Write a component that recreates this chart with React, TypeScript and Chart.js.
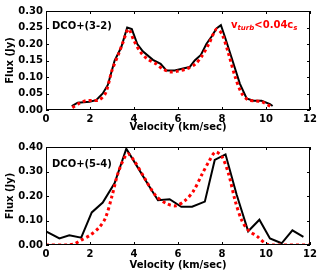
import React, { useEffect, useRef } from "react";
import { Chart, registerables } from "chart.js";

Chart.register(...registerables);

// ---------- data ----------
const xTickValues = [0, 2, 4, 6, 8, 10, 12];

// DCO+(3-2) observed
const v32Obs = [1.17, 1.44, 1.98, 2.28, 2.58, 2.81, 3.12, 3.42, 3.69, 3.9, 4.15, 4.4, 4.86, 5.21, 5.47, 5.85, 6.23, 6.53, 6.76, 7.04, 7.29, 7.52, 7.75, 7.95, 8.13, 8.43, 8.81, 9.12, 9.42, 9.8, 10.18, 10.3];
const f32Obs = [0.012, 0.022, 0.025, 0.03, 0.05, 0.076, 0.15, 0.19, 0.25, 0.245, 0.2, 0.178, 0.152, 0.14, 0.12, 0.12, 0.126, 0.13, 0.15, 0.167, 0.2, 0.222, 0.247, 0.257, 0.222, 0.16, 0.08, 0.035, 0.028, 0.028, 0.018, 0.012];
// DCO+(3-2) model
const v32Mod = [1.2, 1.5, 1.8, 2.1, 2.4, 2.7, 3.0, 3.3, 3.5, 3.75, 4.0, 4.3, 4.6, 5.0, 5.3, 5.7, 6.0, 6.4, 6.8, 7.1, 7.4, 7.75, 8.0, 8.3, 8.6, 8.9, 9.2, 9.5, 9.8, 10.1, 10.3];
const f32Mod = [0.007, 0.02, 0.028, 0.029, 0.03, 0.05, 0.12, 0.17, 0.205, 0.245, 0.21, 0.175, 0.155, 0.14, 0.125, 0.115, 0.118, 0.125, 0.14, 0.165, 0.2, 0.245, 0.23, 0.17, 0.1, 0.05, 0.03, 0.028, 0.025, 0.015, 0.008];

// DCO+(5-4) observed
const v54Obs = [0, 0.61, 1.06, 1.6, 2.08, 2.58, 3.12, 3.65, 4.1, 4.64, 5.09, 5.62, 6.15, 6.64, 7.22, 7.67, 8.16, 8.66, 9.19, 9.7, 10.18, 10.71, 11.2, 11.7];
const f54Obs = [0.056, 0.027, 0.04, 0.03, 0.133, 0.173, 0.253, 0.393, 0.327, 0.247, 0.183, 0.187, 0.156, 0.156, 0.177, 0.347, 0.37, 0.207, 0.056, 0.103, 0.027, 0.007, 0.06, 0.033];
// DCO+(5-4) model
const v54Mod = [0, 1.0, 1.3, 1.6, 2.0, 2.4, 2.7, 3.0, 3.3, 3.7, 4.0, 4.5, 5.0, 5.5, 5.9, 6.3, 6.7, 7.1, 7.4, 7.7, 8.0, 8.3, 8.6, 8.9, 9.2, 9.6, 10.0, 10.3, 12.0];
const f54Mod = [0.0, 0.0, 0.005, 0.02, 0.04, 0.07, 0.11, 0.2, 0.3, 0.372, 0.345, 0.27, 0.2, 0.168, 0.16, 0.18, 0.22, 0.29, 0.34, 0.38, 0.36, 0.29, 0.18, 0.1, 0.06, 0.035, 0.005, 0.0, 0.0];

const FONT = '"DejaVu Sans", sans-serif';

const toPts = (xs: number[], ys: number[]) => xs.map((x, i) => ({ x, y: ys[i] }));

type Part = { text: string; size: number; italic?: boolean; dy?: number };
type Label = { dx: number; y: number; color: string; parts: Part[] };

const framePlugin = {
  id: "frame",
  afterDraw(chart: any, _args: any, opts: any) {
    const { ctx, chartArea: a, scales } = chart;
    ctx.save();
    ctx.strokeStyle = "#000";
    ctx.lineWidth = 1;
    ctx.strokeRect(a.left + 0.5, a.top + 0.5, a.right - a.left - 1, a.bottom - a.top - 1);
    const L = 3;
    ctx.beginPath();
    scales.x.ticks.forEach((t: any) => {
      const px = Math.round(scales.x.getPixelForValue(t.value)) + 0.5;
      ctx.moveTo(px, a.bottom);
      ctx.lineTo(px, a.bottom - L);
      ctx.moveTo(px, a.top);
      ctx.lineTo(px, a.top + L);
    });
    scales.y.ticks.forEach((t: any) => {
      const py = Math.round(scales.y.getPixelForValue(t.value)) + 0.5;
      ctx.moveTo(a.left, py);
      ctx.lineTo(a.left + L, py);
      ctx.moveTo(a.right, py);
      ctx.lineTo(a.right - L, py);
    });
    ctx.stroke();
    const labels: Label[] = (opts && opts.labels) || [];
    ctx.textBaseline = "alphabetic";
    ctx.textAlign = "left";
    labels.forEach((lab) => {
      let x = a.left + lab.dx;
      ctx.fillStyle = lab.color;
      lab.parts.forEach((p) => {
        ctx.font = `${p.italic ? "italic " : ""}bold ${p.size}px ${FONT}`;
        ctx.fillText(p.text, x, lab.y + (p.dy || 0));
        x += ctx.measureText(p.text).width;
      });
    });
    ctx.restore();
  },
};

function makeConfig(opts: {
  obsX: number[]; obsY: number[]; modX: number[]; modY: number[];
  yMax: number; padTop: number; xHeight: number; titlePad: number; labels: Label[];
}) {
  return {
    type: "line" as const,
    data: {
      datasets: [
        {
          data: toPts(opts.modX, opts.modY),
          borderColor: "#ff0000",
          borderWidth: 3,
          borderDash: [3, 3],
          pointRadius: 0,
          tension: 0.3,
          fill: false,
          order: 0,
        },
        {
          data: toPts(opts.obsX, opts.obsY),
          borderColor: "#000000",
          borderWidth: 2,
          pointRadius: 0,
          tension: 0,
          fill: false,
          order: 1,
        },
      ],
    },
    options: {
      responsive: false,
      animation: false,
      devicePixelRatio: 1,
      layout: { padding: { top: opts.padTop, right: 10, left: 0, bottom: 0 } },
      plugins: {
        legend: { display: false },
        tooltip: { enabled: false },
        frame: { labels: opts.labels },
      },
      scales: {
        x: {
          type: "linear",
          min: 0,
          max: 12,
          grid: { display: false, drawTicks: false },
          border: { display: false },
          afterBuildTicks: (s: any) => { s.ticks = xTickValues.map((v) => ({ value: v })); },
          ticks: { color: "#000", font: { family: FONT, size: 10, weight: "bold" }, padding: 3, maxRotation: 0, autoSkip: false },
          title: { display: true, text: "Velocity (km/sec)", color: "#000", font: { family: FONT, size: 10, weight: "bold" }, padding: { top: 0, bottom: opts.titlePad } },
          afterFit: (s: any) => { s.height = opts.xHeight; },
        },
        y: {
          type: "linear",
          min: 0,
          max: opts.yMax,
          grid: { display: false, drawTicks: false },
          border: { display: false },
          ticks: { stepSize: 0.05, color: "#000", font: { family: FONT, size: 10, weight: "bold" }, padding: 3, callback: (v: any) => Number(v).toFixed(2) },
          title: { display: true, text: "Flux (Jy)", color: "#000", font: { family: FONT, size: 10, weight: "bold" }, padding: { top: 4, bottom: 0 } },
          afterFit: (s: any) => { s.width = 46; },
        },
      },
    },
    plugins: [framePlugin],
  };
}

function Panel(props: { top: number; height: number; cfg: any }) {
  const ref = useRef<HTMLCanvasElement>(null);
  useEffect(() => {
    if (!ref.current) return;
    const chart = new Chart(ref.current, props.cfg);
    return () => chart.destroy();
  }, []);
  return (
    <canvas
      ref={ref}
      width={320}
      height={props.height}
      style={{ position: "absolute", left: 0, top: props.top, width: 320, height: props.height }}
    />
  );
}

export default function App() {
  const cfgTop = makeConfig({
    obsX: v32Obs, obsY: f32Obs, modX: v32Mod, modY: f32Mod,
    yMax: 0.3, padTop: 11, xHeight: 28, titlePad: 5,
    labels: [
      { dx: 6, y: 28.5, color: "#000", parts: [{ text: "DCO+(3-2)", size: 10 }] },
      {
        dx: 185, y: 28, color: "#ff0000", parts: [
          { text: "v", size: 10 },
          { text: "turb", size: 7, italic: true, dy: 1.5 },
          { text: "<0.04c", size: 10 },
          { text: "s", size: 7, italic: true, dy: 1.5 },
        ],
      },
    ],
  });
  const cfgBot = makeConfig({
    obsX: v54Obs, obsY: f54Obs, modX: v54Mod, modY: f54Mod,
    yMax: 0.4, padTop: 7, xHeight: 32, titlePad: 6,
    labels: [{ dx: 6, y: 29, color: "#000", parts: [{ text: "DCO+(5-4)", size: 10 }] }],
  });
  return (
    <div style={{ position: "fixed", left: 0, top: 0, width: 320, height: 277, background: "#fff" }}>
      <Panel top={0} height={138} cfg={cfgTop} />
      <Panel top={138} height={139} cfg={cfgBot} />
    </div>
  );
}
